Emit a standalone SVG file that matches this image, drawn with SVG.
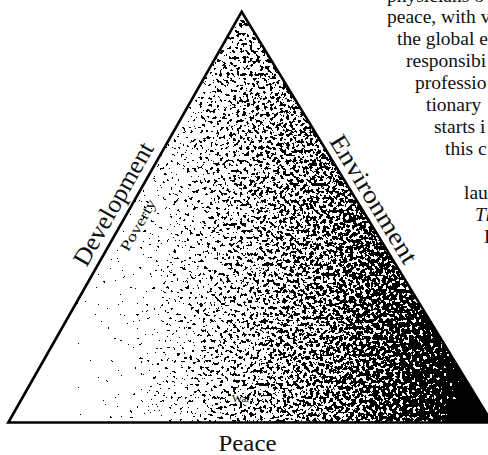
<svg xmlns="http://www.w3.org/2000/svg" width="488" height="455" viewBox="0 0 488 455">
  <style>
    .serif { font-family: "Liberation Serif", "DejaVu Serif", serif; fill: #111; }
    .para { font-size: 19.5px; }
  </style>
  <defs>
    <linearGradient id="shade" gradientUnits="userSpaceOnUse" x1="0" y1="0" x2="488" y2="0">
      <stop offset="0" stop-color="#fff"/>
      <stop offset="0.123" stop-color="#fff"/>
      <stop offset="0.164" stop-color="#cccccc"/>
      <stop offset="0.266" stop-color="#c2c2c2"/>
      <stop offset="0.348" stop-color="#afafaf"/>
      <stop offset="0.430" stop-color="#9e9e9e"/>
      <stop offset="0.533" stop-color="#8f8f8f"/>
      <stop offset="0.676" stop-color="#7f7f7f"/>
      <stop offset="0.820" stop-color="#6b6b6b"/>
      <stop offset="0.902" stop-color="#545454"/>
      <stop offset="0.953" stop-color="#3a3a3a"/>
      <stop offset="0.998" stop-color="#000"/>
    </linearGradient>
    <filter id="stipple" x="0" y="0" width="1" height="1" filterUnits="objectBoundingBox" color-interpolation-filters="sRGB">
      <feTurbulence type="fractalNoise" baseFrequency="0.3" numOctaves="2" seed="7" result="raw"/>
      <feColorMatrix in="raw" type="matrix" values="1 0 0 0 0  1 0 0 0 0  1 0 0 0 0  0 0 0 0 1" result="noise"/>
      <feComposite in="SourceGraphic" in2="noise" operator="arithmetic" k1="0" k2="1" k3="1" k4="-0.5" result="sum"/>
      <feComponentTransfer in="sum" result="bw">
        <feFuncR type="discrete" tableValues="0 1"/>
        <feFuncG type="discrete" tableValues="0 1"/>
        <feFuncB type="discrete" tableValues="0 1"/>
        <feFuncA type="linear" slope="0" intercept="1"/>
      </feComponentTransfer>
      <feComposite in="bw" in2="SourceAlpha" operator="in"/>
    </filter>
  </defs>

  <rect width="488" height="455" fill="#fff"/>

  <g id="triangle">
    <polygon points="241.7,11.7 8.3,422.5 492,422.5" fill="url(#shade)" filter="url(#stipple)"/>
    <polygon points="241.7,11.7 8.3,422.5 492,422.5" fill="none" stroke="#000" stroke-width="2.6" stroke-linejoin="miter"/>
  </g>

  <g id="labels">
    <text class="serif" font-size="25" text-anchor="middle" textLength="138" lengthAdjust="spacingAndGlyphs" transform="translate(120.5,208) rotate(-60.4)">Development</text>
    <text class="serif" font-size="15" text-anchor="middle" textLength="57" lengthAdjust="spacingAndGlyphs" transform="translate(142.4,227.5) rotate(-60.4)">Poverty</text>
    <text class="serif" font-size="25" text-anchor="middle" textLength="146" lengthAdjust="spacingAndGlyphs" transform="translate(366.6,203.4) rotate(58.7)">Environment</text>
    <text class="serif" font-size="24" text-anchor="middle" textLength="58" lengthAdjust="spacingAndGlyphs" x="247.5" y="450.5">Peace</text>
    <text class="serif" font-size="11" text-anchor="middle" x="241" y="402" fill="#222">War</text>
  </g>

  <g id="paragraph" class="serif para">
    <text x="387" y="2">physicians o</text>
    <text x="387" y="23">peace, with v</text>
    <text x="397" y="45">the global e</text>
    <text x="406" y="67">responsibi</text>
    <text x="415" y="89">professio</text>
    <text x="426" y="111">tionary</text>
    <text x="434" y="133">starts i</text>
    <text x="445" y="155">this c</text>
    <text x="464" y="199">lau</text>
    <text x="475" y="221" font-style="italic">Th</text>
    <text x="484" y="243">H</text>
  </g>
</svg>
